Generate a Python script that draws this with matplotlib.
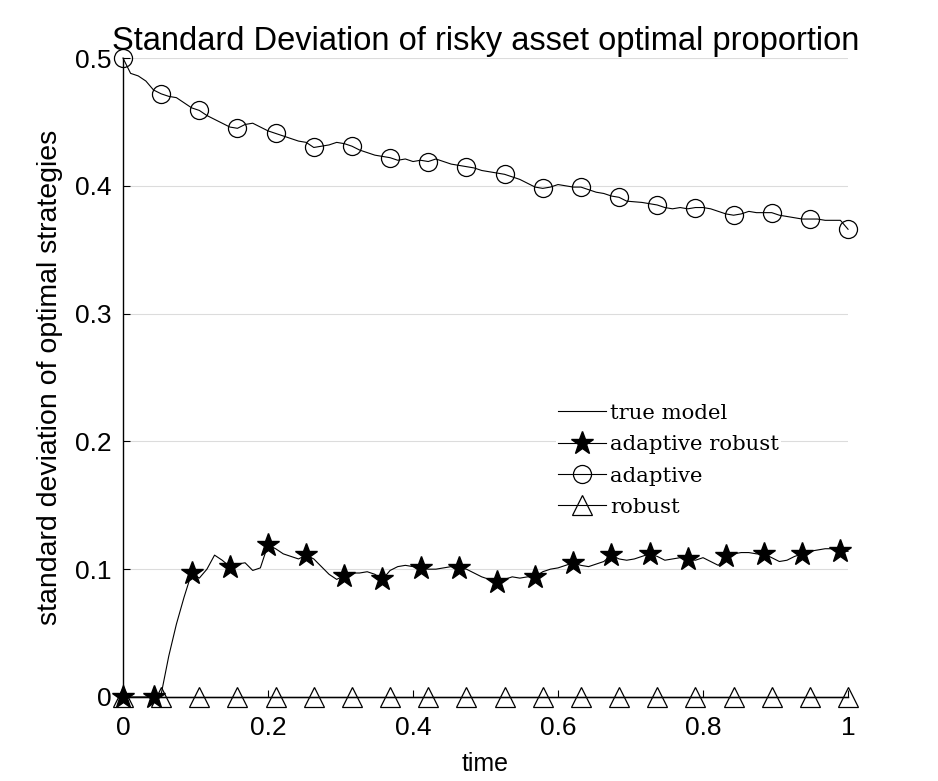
import matplotlib
matplotlib.use('Agg')
import matplotlib.pyplot as plt

# time grid: 96 samples on [0, 1]
n_steps = 95
time = [i / n_steps for i in range(n_steps + 1)]

adaptive = [0.500, 0.488, 0.486, 0.482, 0.475, 0.472, 0.470, 0.469, 0.465, 0.461,
            0.459, 0.455, 0.452, 0.449, 0.446, 0.445, 0.448, 0.449, 0.446, 0.443,
            0.441, 0.439, 0.437, 0.435, 0.434, 0.430, 0.431, 0.432, 0.434, 0.433,
            0.431, 0.428, 0.426, 0.424, 0.423, 0.422, 0.420, 0.421, 0.419, 0.420,
            0.419, 0.421, 0.419, 0.417, 0.416, 0.415, 0.414, 0.412, 0.411, 0.410,
            0.409, 0.407, 0.405, 0.402, 0.399, 0.398, 0.399, 0.401, 0.400, 0.399,
            0.399, 0.397, 0.395, 0.394, 0.392, 0.391, 0.388, 0.3875, 0.387, 0.386,
            0.385, 0.383, 0.382, 0.383, 0.382, 0.383, 0.383, 0.382, 0.380, 0.378,
            0.377, 0.378, 0.380, 0.379, 0.379, 0.379, 0.377, 0.376, 0.375, 0.374,
            0.374, 0.374, 0.373, 0.373, 0.373, 0.366]

adaptive_robust = [0.000, 0.000, 0.000, 0.000, 0.000, 0.002, 0.032, 0.057, 0.078, 0.097,
                   0.093, 0.100, 0.111, 0.107, 0.102, 0.104, 0.105, 0.099, 0.101, 0.119,
                   0.116, 0.112, 0.110, 0.108, 0.111, 0.108, 0.102, 0.096, 0.092, 0.095,
                   0.097, 0.097, 0.098, 0.096, 0.092, 0.099, 0.102, 0.103, 0.102, 0.101,
                   0.100, 0.100, 0.101, 0.102, 0.101, 0.100, 0.097, 0.094, 0.092, 0.090,
                   0.092, 0.094, 0.093, 0.094, 0.094, 0.098, 0.100, 0.101, 0.103, 0.105,
                   0.103, 0.102, 0.104, 0.106, 0.111, 0.108, 0.107, 0.108, 0.110, 0.112,
                   0.110, 0.107, 0.108, 0.109, 0.108, 0.107, 0.109, 0.106, 0.103, 0.110,
                   0.112, 0.113, 0.113, 0.112, 0.112, 0.109, 0.106, 0.107, 0.110, 0.112,
                   0.114, 0.115, 0.116, 0.116, 0.114, 0.114]

robust = [0.0] * len(time)
true_model = [0.0] * len(time)

xticks = [0, 0.2, 0.4, 0.6, 0.8, 1]
xtick_labels = ['0', '0.2', '0.4', '0.6', '0.8', '1']
yticks = [0, 0.1, 0.2, 0.3, 0.4, 0.5]
ytick_labels = ['0', '0.1', '0.2', '0.3', '0.4', '0.5']

plt.rcParams['font.family'] = ['Liberation Sans', 'DejaVu Sans']

fig = plt.figure(figsize=(9.38, 7.81), dpi=100)
ax = fig.add_axes([0.1311, 0.1076, 0.7730, 0.8181])

# star markers sit one sample before the others
star_idx = [0] + [5 * k - 1 for k in range(1, 20)]

ax.plot(time, true_model, color='black', lw=0.8, label='true model', clip_on=False)
ax.plot(time, adaptive_robust, color='black', lw=0.8, marker='*', markersize=17,
        markevery=star_idx, markerfacecolor='black', markeredgecolor='black',
        label='adaptive robust', clip_on=False)
ax.plot(time, adaptive, color='black', lw=0.8, marker='o', markersize=13,
        markevery=5, markerfacecolor='none', markeredgecolor='black', markeredgewidth=0.9,
        label='adaptive', clip_on=False)
ax.plot(time, robust, color='black', lw=0.8, marker='^', markersize=14,
        markevery=5, markerfacecolor='none', markeredgecolor='black', markeredgewidth=0.9,
        label='robust', clip_on=False)

ax.set_xlim(0, 1)
ax.set_ylim(0, 0.5)
ax.set_xticks(xticks)
ax.set_xticklabels(xtick_labels)
ax.set_yticks(yticks)
ax.set_yticklabels(ytick_labels)
ax.tick_params(direction='in', length=5, width=0.8, labelsize=19)
ax.tick_params(axis='x', pad=14)
ax.tick_params(axis='y', pad=8)

ax.grid(axis='y', color='#dcdcdc', lw=0.8)
ax.set_axisbelow(True)
for side in ['top', 'right']:
    ax.spines[side].set_visible(False)
for side in ['left', 'bottom']:
    ax.spines[side].set_linewidth(1.0)

ax.set_title('Standard Deviation of risky asset optimal proportion', fontsize=23.5, pad=6)
ax.set_xlabel('time', fontsize=18, labelpad=8)
ax.set_ylabel('standard deviation of optimal strategies', fontsize=20.5, labelpad=9)

leg = ax.legend(loc='upper left', bbox_to_anchor=(0.597, 0.462), frameon=True,
                prop={'family': 'DejaVu Serif', 'size': 15.3}, handlelength=2.25,
                handletextpad=0.2, labelspacing=0.58, borderpad=0.1, borderaxespad=0)
leg.get_frame().set_edgecolor('none')
leg.get_frame().set_facecolor('white')
leg.get_frame().set_alpha(1)

fig.savefig('out.png', dpi=100)
